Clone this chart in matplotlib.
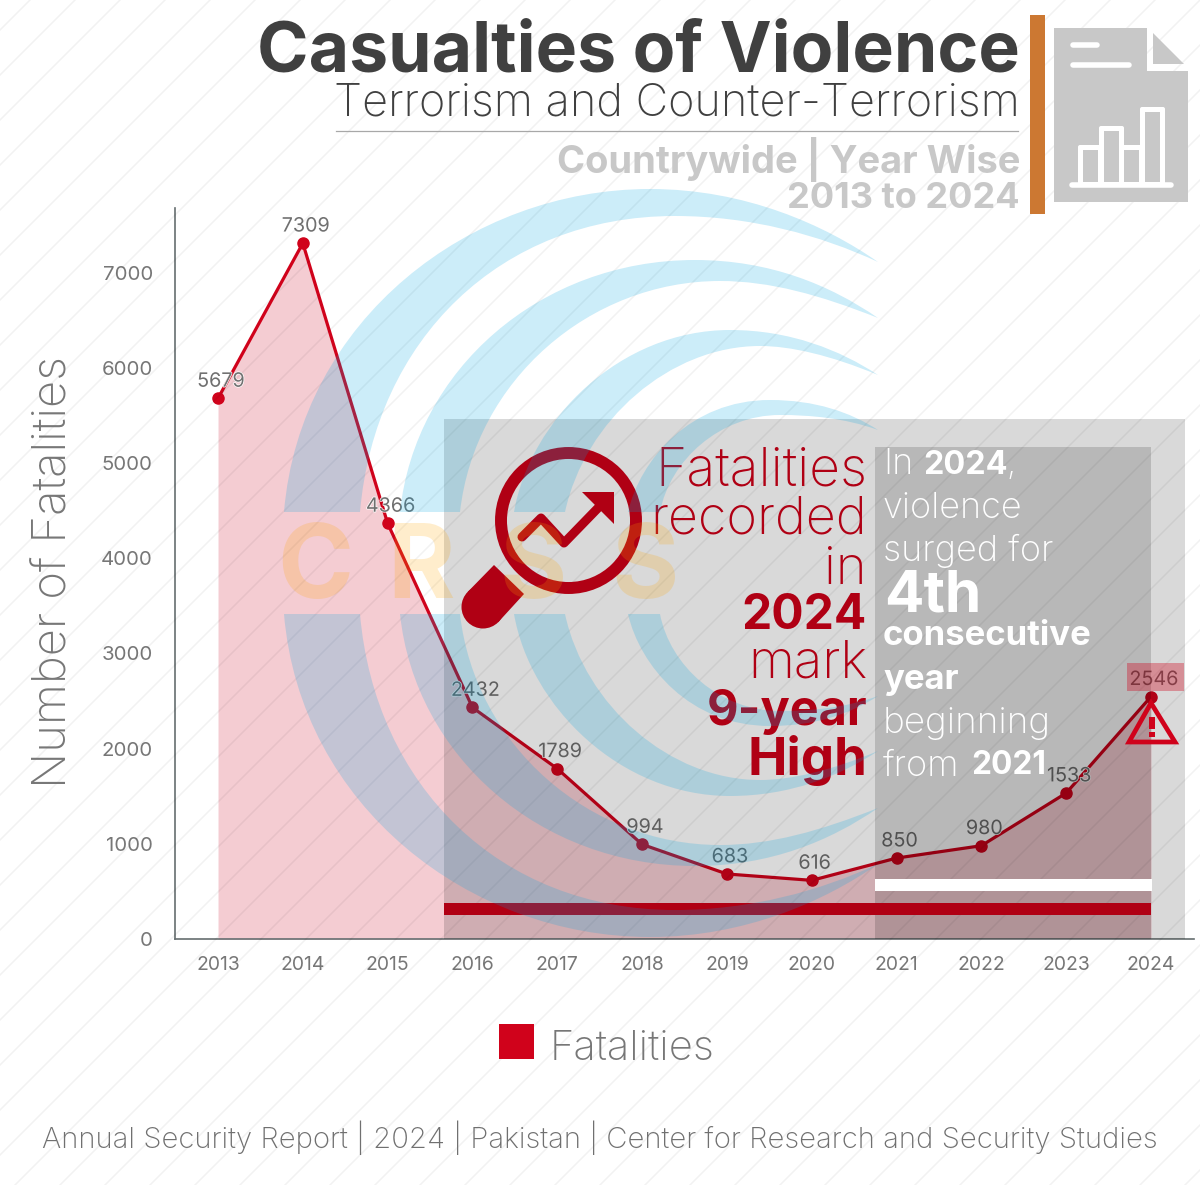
import matplotlib
matplotlib.use("Agg")
import matplotlib.pyplot as plt
import matplotlib.patheffects as pe
from matplotlib.path import Path
from matplotlib.patches import PathPatch, Rectangle, Polygon, Circle, FancyBboxPatch

plt.rcParams['font.family'] = ['Inter', 'DejaVu Sans']

# chart data
years = ['2013', '2014', '2015', '2016', '2017', '2018', '2019', '2020', '2021', '2022', '2023', '2024']
fatalities = [5679, 7309, 4366, 2432, 1789, 994, 683, 616, 850, 980, 1533, 2546]
y_ticks = [0, 1000, 2000, 3000, 4000, 5000, 6000, 7000]

RED = '#D0021B'
DARK_RED = '#B00014'
GREY = '#777777'

W, H = 1200, 1185
fig = plt.figure(figsize=(12, 11.85), dpi=100, facecolor='white')


def pixel_axes(z):
    a = fig.add_axes([0, 0, 1, 1], zorder=z)
    a.set_xlim(0, W)
    a.set_ylim(H, 0)
    a.axis('off')
    a.patch.set_alpha(0)
    return a


# main chart axes, placed so the axis lines sit where they do in the picture
ax = fig.add_axes([175 / W, 1 - 939 / H, (1194 - 175) / W, (939 - 208) / H], zorder=1)
ax.patch.set_alpha(0)
x = list(range(len(years)))
ax.set_xlim(-0.507, 11.507)
ax.set_ylim(0, 731 / 0.0952)
ax.fill_between(x, fatalities, 0, color='#C80020', alpha=0.2, lw=0)
ax.plot(x, fatalities, color=RED, lw=2.3, marker='o', ms=8)
for xi, v in zip(x, fatalities):
    ax.annotate(str(v), (xi, v), xytext=(2, 5.5), textcoords='offset points', ha='center', va='bottom',
                fontsize=14.2, color='#707070',
                path_effects=[pe.withStroke(linewidth=1.0, foreground='white')])
ax.set_xticks(x, years)
ax.set_yticks(y_ticks, [str(t) for t in y_ticks])
ax.tick_params(axis='x', length=0, labelsize=13.9, labelcolor='#777777', pad=12)
ax.tick_params(axis='y', length=0, labelsize=14.7, labelcolor='#777777', pad=16)
for s in ['top', 'right']:
    ax.spines[s].set_visible(False)
for s in ['left', 'bottom']:
    ax.spines[s].set_color('#666e70')
    ax.spines[s].set_linewidth(1.2)

# panels, bars, text and icons all live in pixel coordinates
top = pixel_axes(2)

# background diagonal lines
for c in range(-1200, 1300, 45):
    top.plot([c, c + H], [H, 0], color='black', alpha=0.05, lw=1.1, zorder=1)

top.add_patch(Rectangle((444, 419), 741, 520, fc='black', alpha=0.15, lw=0, zorder=2))
top.add_patch(Rectangle((875, 447), 276, 492, fc='black', alpha=0.15, lw=0, zorder=2))
top.add_patch(Rectangle((875, 879), 277, 12, fc='white', lw=0, zorder=3))
top.add_patch(Rectangle((444, 903), 707, 12, fc=DARK_RED, lw=0, zorder=3))
top.add_patch(Rectangle((1127, 663), 57, 28, fc=RED, alpha=0.35, lw=0, zorder=3))

# title block
top.text(1020, 53, 'Casualties of Violence', ha='right', va='center', fontsize=50.2, fontweight='bold', color='#404040', zorder=5)
top.text(1020, 103, 'Terrorism and Counter-Terrorism', ha='right', va='center', fontsize=32.4, fontweight='light', color='#404040', zorder=5)
top.plot([336, 1018], [131, 131], color='#a8a8a8', lw=0.9, zorder=5)
top.text(1020, 160, 'Countrywide | Year Wise', ha='right', va='center', fontsize=27.4, fontweight='bold', color='#c8c8c8', zorder=5)
top.text(1020, 198, '2013 to 2024', ha='right', va='center', fontsize=26, fontweight='bold', color='#c8c8c8', zorder=5)
top.add_patch(Rectangle((1030, 15), 15, 199, fc='#CC7832', lw=0, zorder=5))

# document icon
ICON = '#C8C8C8'
top.add_patch(Polygon([(1054, 28), (1147, 28), (1147, 71), (1188, 71), (1188, 202), (1054, 202)], fc=ICON, lw=0, zorder=5))
top.add_patch(Polygon([(1153, 33), (1184, 64), (1153, 64)], fc=ICON, lw=0, zorder=5))
top.plot([1073, 1097], [45, 45], color='white', lw=4, solid_capstyle='round', zorder=6)
top.plot([1073, 1129], [64.5, 64.5], color='white', lw=4, solid_capstyle='round', zorder=6)
top.plot([1072, 1171], [185, 185], color='white', lw=4, solid_capstyle='round', zorder=6)
for bx, by in [(1083, 150), (1104, 131), (1124, 150), (1145, 112)]:
    top.add_patch(FancyBboxPatch((bx - 5, by - 5), 25, 190 - by, boxstyle='round,pad=0,rounding_size=2', fc='white', lw=0, zorder=6))
for bx, by in [(1083, 150), (1104, 131), (1124, 150), (1145, 112)]:
    top.add_patch(Rectangle((bx, by), 15, 182 - by, fc=ICON, lw=0, zorder=7))

# magnifier icon
top.add_patch(Circle((568.5, 520.5), 67.5, fc='none', ec=DARK_RED, lw=8.6, zorder=6))
top.add_patch(Polygon([(494, 565), (524, 594), (498.2, 622.2), (467.8, 591.8)], fc=DARK_RED, lw=0, zorder=6))
top.add_patch(Circle((483, 607), 21.5, fc=DARK_RED, lw=0, zorder=6))
top.plot([522, 541, 564, 598], [537, 518, 543, 508], color=DARK_RED, lw=6.5, solid_capstyle='round', solid_joinstyle='round', zorder=6)
top.add_patch(Polygon([(582, 492), (614, 492), (614, 524)], fc=DARK_RED, lw=0, zorder=6))

# warning triangle
top.add_patch(Polygon([(1151, 703), (1129, 742), (1175, 742)], fc='none', ec=RED, lw=3.4, zorder=6))
top.add_patch(Rectangle((1149, 717), 6, 12, fc=RED, lw=0, zorder=6))
top.add_patch(Rectangle((1149, 732), 6, 5, fc=RED, lw=0, zorder=6))

# callout text, red column
left_lines = [('Fatalities', 472, 38.5, 'light'), ('recorded', 520, 37.5, 'light'), ('in', 570, 38, 'light'), ('2024', 616, 34.5, 'bold'),
              ('mark', 664, 38, 'light'), ('9-year', 712, 35, 'bold'), ('High', 760, 38, 'bold')]
for txt, yy, fs, w in left_lines:
    top.text(867, yy, txt, ha='right', va='center', fontsize=fs, fontweight=w, color=DARK_RED, zorder=6)

# callout text, white column
right_lines = [(883, 465, 'In', 26, 'light'), (923, 465, '2024', 23.3, 'bold'), (1006, 465, ',', 24, 'light'),
               (883, 509, 'violence', 26, 'light'), (883, 551, 'surged for', 26, 'light'),
               (884, 596, '4th', 42, 'bold'), (883, 636, 'consecutive', 25, 'bold'), (883, 680, 'year', 25, 'bold'),
               (883, 724, 'beginning', 26.5, 'light'), (883, 766, 'from', 26, 'light'), (971, 766, '2021', 22.8, 'bold')]
for xx, yy, txt, fs, w in right_lines:
    top.text(xx, yy, txt, ha='left', va='center', fontsize=fs, fontweight=w, color='white', zorder=6)

# axis title, legend and footer
top.text(55, 572, 'Number of Fatalities', rotation=90, ha='center', va='center', fontsize=34, fontweight='light', color=GREY, zorder=6)
top.add_patch(Rectangle((499, 1024), 35, 35, fc=RED, lw=0, zorder=6))
top.text(550, 1049, 'Fatalities', ha='left', va='center', fontsize=30, fontweight='light', color=GREY, zorder=6)
top.text(600, 1138, 'Annual Security Report | 2024 | Pakistan | Center for Research and Security Studies', ha='center', va='center',
         fontsize=21.1, fontweight='light', color='#707070', zorder=6)

# watermark on top of everything
BLUE = (0, 165 / 255, 225 / 255)
crescents = [
    [(284, 512), (300, 320), (470, 189), (650, 189), (745, 189), (825, 225), (878, 262),
     (820, 235), (750, 216), (675, 216), (500, 216), (375, 340), (360, 512)],
    [(400, 512), (415, 370), (540, 260), (695, 260), (770, 260), (830, 285), (878, 318),
     (820, 295), (770, 281), (720, 281), (590, 281), (475, 380), (460, 512)],
    [(514, 512), (530, 420), (620, 330), (730, 330), (790, 330), (840, 350), (878, 375),
     (830, 355), (790, 346), (760, 346), (670, 346), (585, 420), (565, 512)],
    [(628, 512), (640, 460), (690, 400), (770, 400), (815, 400), (850, 412), (878, 430),
     (845, 418), (810, 415), (780, 415), (720, 415), (670, 460), (660, 512)],
]
for pts in crescents:
    codes = [Path.MOVETO] + [Path.CURVE4] * 12 + [Path.CLOSEPOLY]
    for verts in (pts, [(px, 1126 - py) for px, py in pts]):
        top.add_patch(PathPatch(Path(verts + [verts[0]], codes), fc=BLUE, alpha=0.2, lw=0, zorder=8))
for xx, letter in zip([315, 421, 533, 645], 'CRSS'):
    top.text(xx, 571, letter, ha='center', va='center', fontsize=74, fontweight='bold', color='#FFA500', alpha=0.2, zorder=8)

fig.savefig('out.png', dpi=100)
